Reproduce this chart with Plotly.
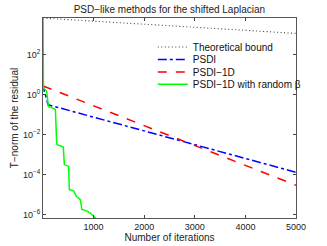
import plotly.graph_objects as go

# ---- data ----
bound_iter = [0, 5000]
bound_val = [7.0e3, 1.2e3]

psdi_iter = [0, 20, 100, 5000]
psdi_val = [4.0, 1.8, 0.32, 1.32e-4]

psdi1d_iter = [0, 5000]
psdi1d_val = [2.8, 2.95e-5]

rand_iter = [0, 8, 73, 107, 205, 245, 270, 278, 402, 422, 507, 520, 606, 659, 738, 771, 870, 935, 1034, 1060]
rand_val = [1e5, 2.2, 1.5, 0.26, 0.21, 0.18, 4.0e-3, 3.2e-3, 2.4e-3, 3.2e-4, 2.6e-4, 1.8e-5, 1.5e-5,
            8.3e-6, 5.6e-6, 1.8e-6, 1.5e-6, 1.2e-6, 6.8e-7, 4.0e-7]

x_ticks = [1000, 2000, 3000, 4000, 5000]
y_tickvals = [1e-6, 1e-4, 1e-2, 1e0, 1e2]
y_ticktext = ["10<sup>−6</sup>", "10<sup>−4</sup>", "10<sup>−2</sup>", "10<sup>0</sup>", "10<sup>2</sup>"]

FONT = "Liberation Sans, Arial, Helvetica, sans-serif"

fig = go.Figure()
fig.add_trace(go.Scatter(x=bound_iter, y=bound_val, mode="lines", name="Theoretical bound",
                         legend="legend",
                         line=dict(color="#444444", width=1.1, dash="1px,2.5px")))
fig.add_trace(go.Scatter(x=psdi_iter, y=psdi_val, mode="lines", name="PSDI",
                         legend="legend2",
                         line=dict(color="#0000ff", width=1.5, dash="dashdot")))
fig.add_trace(go.Scatter(x=psdi1d_iter, y=psdi1d_val, mode="lines", name="PSDI−1D",
                         legend="legend3",
                         line=dict(color="#ff0000", width=1.5, dash="dash")))
fig.add_trace(go.Scatter(x=rand_iter, y=rand_val, mode="lines", name="PSDI−1D with random β",
                         legend="legend4",
                         line=dict(color="#00ff00", width=1.5)))

leg_common = dict(x=0.434, xanchor="left", yanchor="middle", bgcolor="rgba(0,0,0,0)",
                  font=dict(size=10, family=FONT, color="#111111"), itemwidth=30)
leg_y = [0.855, 0.7925, 0.73, 0.6685]

fig.update_layout(
    width=327, height=246,
    margin=dict(l=43, r=31, t=18, b=28),
    paper_bgcolor="white", plot_bgcolor="white",
    font=dict(family=FONT, size=9, color="#222222"),
    title=dict(text="PSD−like methods for the shifted Laplacian", x=0.518, xanchor="center",
               y=0.975, yanchor="top", font=dict(size=10, family=FONT)),
    showlegend=True,
    legend=dict(y=leg_y[0], **leg_common),
    legend2=dict(y=leg_y[1], **leg_common),
    legend3=dict(y=leg_y[2], **leg_common),
    legend4=dict(y=leg_y[3], **leg_common),
)
fig.update_xaxes(range=[0, 5000], tickvals=x_ticks, ticks="inside", ticklen=3,
                 showline=True, linecolor="#555555", linewidth=1, mirror="ticks",
                 showgrid=False, zeroline=False, tickfont=dict(size=9), automargin=False,
                 title=dict(text="Number of iterations", font=dict(size=10), standoff=2))
fig.update_yaxes(type="log", range=[-6.17, 3.85], tickvals=y_tickvals, ticktext=y_ticktext,
                 ticks="inside", ticklen=3, showline=True, linecolor="#555555", linewidth=1,
                 mirror="ticks", showgrid=False, zeroline=False, tickfont=dict(size=9),
                 automargin=False,
                 title=dict(text="T−norm of the residual", font=dict(size=10), standoff=2))

fig.write_html("out.html", config={"displayModeBar": False},
               post_script="document.body.style.margin='0px';")
